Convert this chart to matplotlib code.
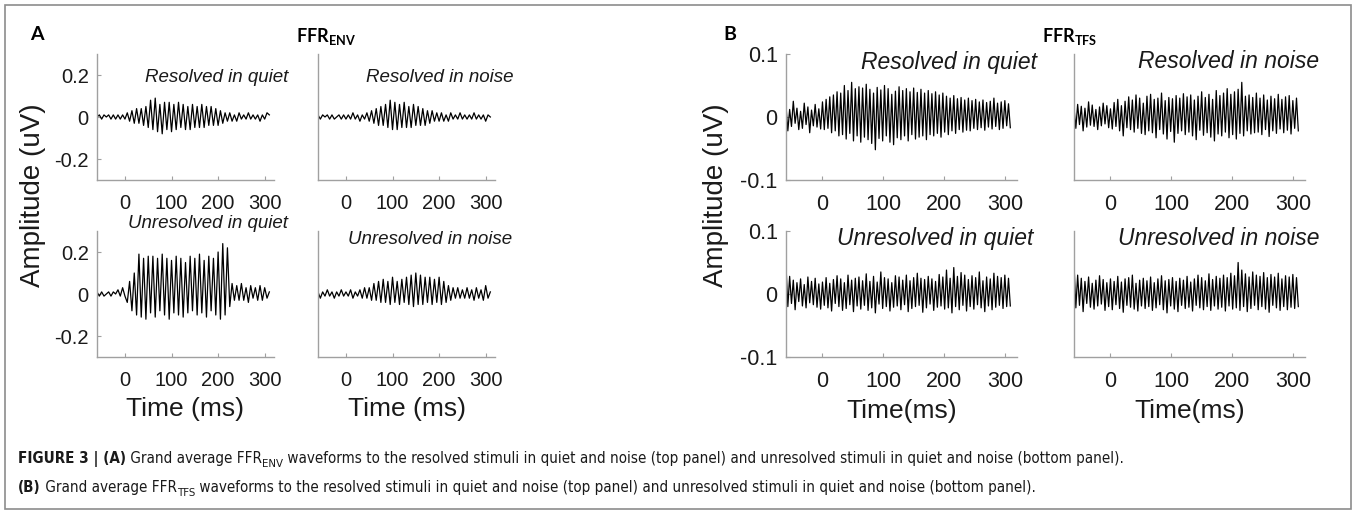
import numpy as np
import matplotlib
matplotlib.use("Agg")
import matplotlib.pyplot as plt
from matplotlib import font_manager as fm
from matplotlib.patches import Rectangle

# ---------------- data ----------------
# FFR_ENV waveforms (units 0.01 uV), half-cycle extremes every 5 ms from -60 ms
env_t0, env_step = -60, 5
env_res_quiet = [0, 1, -1, 1, 0, 1, -1, 1, -1, 1, -1, 1, -1,
                 2, -2, 3, -3, 4, -3, 4, -4, 5, -5,
                 8, -6, 9, -7, 6, -8, 7, -6, 7, -7,
                 6, -6, 7, -5, 6, -6, 5, -6, 6, -5,
                 5, -5, 6, -5, 5, -4, 5, -4, 4, -4,
                 3, -3, 2, -2, 2, -2, 1, -2, 2, -1,
                 1, -1, 2, -1, 1, -1, 1, -2, 1, -1, 2, 1]
env_res_noise = [1, -1, 1, 0, 1, -1, 1, -1, 0, 1, -1, 1, -1,
                 1, -1, 2, -1, 1, -2, 1, -1, 2, -2,
                 3, -3, 4, -4, 5, -4, 6, -5, 8, -6,
                 7, -6, 6, -5, 7, -5, 5, -5, 6, -4,
                 5, -4, 4, -4, 3, -3, 3, -2, 2, -2,
                 2, -2, 1, -2, 2, -1, 1, -1, 2, -1,
                 1, -1, 1, -1, 2, -1, 1, -1, 1, -2, 1, 0]
env_unres_quiet = [1, -1, 1, -1, 0, 1, -1, 1, 0, 2, -1, 3, -1,
                   -4, 6, -8, 10, -10, 19, -11, 17, -12, 18,
                   -9, 18, -11, 17, -8, 19, -10, 17, -12, 16,
                   -9, 18, -10, 17, -11, 15, -9, 18, -8, 17,
                   -10, 19, -9, 16, -11, 18, -8, 17, -10, 20,
                   -12, 24, -10, 22, -6, 5, -3, 4, -3, 5,
                   -3, 3, -4, 4, -2, 3, -3, 4, -3, 3, -2, 1]
env_unres_noise = [1, -2, 1, -1, 2, -1, 1, -2, 1, -1, 2, -1, 1,
                   -1, 2, -2, 1, -1, 2, -2, 3, -2, 3,
                   -3, 5, -3, 6, -4, 7, -4, 6, -5, 8,
                   -4, 6, -5, 7, -4, 8, -5, 9, -6, 10,
                   -5, 9, -5, 8, -4, 8, -5, 7, -4, 8,
                   -5, 6, -4, 4, -3, 3, -2, 3, -2, 2,
                   -2, 3, -2, 2, -3, 3, -2, 2, -3, 4, -2, 1]

# FFR_TFS waveforms (units 0.001 uV), extremes every 3 ms from -60 ms
tfs_t0, tfs_step = -60, 3
tfs_res_quiet = [18, -22, 12, -15, 25, -10, 14, -20, 9, -18, 22, -12, 16, -25, 11, -14, 20, -16, 13, -19, 24,
                 -20, 28, -18, 32, -25, 35, -22, 40, -30, 38, -28, 50, -35, 42, -26, 55, -38, 45, -30, 48,
                 -40, 46, -32, 52, -36, 44, -42, 38, -52, 47, -34, 43, -38, 50, -30, 45, -40, 36, -44, 41,
                 -33, 48, -36, 42, -30, 45, -38, 40, -28, 46, -35, 39, -32, 44, -30, 38, -36, 42, -28, 37,
                 -30, 40, -26, 35, -32, 38, -24, 33, -28, 30, -22, 34, -26, 29, -20, 31, -24, 27, -21, 30,
                 -22, 26, -18, 28, -20, 24, -17, 27, -21, 23, -16, 25, -19, 30, -15, 22, -20, 24, -18, 26, -14, 21, -17]
tfs_res_noise = [15, -18, 20, -12, 17, -22, 14, -16, 24, -13, 19, -15, 12, -20, 16, -14, 22, -11, 18, -17, 13,
                 -19, 23, -15, 28, -22, 18, -30, 25, -17, 32, -20, 27, -24, 35, -18, 30, -26, 22, -28, 33,
                 -22, 36, -25, 28, -33, 30, -20, 38, -27, 26, -35, 31, -23, 29, -40, 34, -26, 30, -22, 37,
                 -28, 32, -24, 35, -30, 27, -36, 33, -21, 40, -29, 31, -25, 36, -32, 28, -38, 42, -27, 34,
                 -30, 38, -24, 45, -33, 36, -28, 40, -35, 44, -26, 55, -30, 33, -22, 35, -27, 31, -25, 38,
                 -24, 30, -28, 35, -20, 27, -31, 33, -22, 29, -26, 36, -19, 28, -25, 32, -21, 34, -27, 26, -18, 30, -22]
tfs_unres_quiet = [45, -20, 28, -15, 22, -25, 18, -12, 24, -19, 15, -22, 27, -14, 20, -17, 25, -21, 16, -24, 19,
                   -18, 26, -22, 17, -27, 23, -15, 29, -20, 24, -26, 18, -23, 30, -17, 22, -28, 25, -19, 27,
                   -24, 21, -18, 32, -26, 20, -22, 28, -30, 19, -16, 35, -23, 26, -20, 24, -27, 18, -21, 29,
                   -19, 27, -25, 22, -17, 30, -28, 21, -23, 26, -20, 33, -18, 25, -29, 23, -22, 28, -16, 24,
                   -26, 20, -21, 31, -19, 27, -24, 38, -22, 25, -30, 42, -20, 28, -25, 34, -18, 30, -27, 23,
                   -20, 29, -24, 26, -17, 35, -22, 21, -28, 27, -19, 24, -25, 33, -21, 28, -18, 26, -23, 30, -20, 25, -19]
tfs_unres_noise = [48, -22, 30, -18, 25, -28, 20, -15, 27, -21, 17, -24, 22, -19, 29, -16, 23, -26, 18, -20, 24,
                   -25, 20, -17, 28, -23, 19, -29, 24, -18, 26, -21, 30, -24, 17, -27, 22, -19, 25, -23, 21,
                   -20, 27, -26, 18, -22, 24, -17, 29, -25, 21, -30, 23, -19, 26, -24, 20, -28, 25, -18, 22,
                   -23, 28, -21, 19, -27, 24, -18, 30, -22, 26, -25, 21, -20, 32, -26, 23, -19, 28, -24, 25,
                   -21, 30, -27, 26, -19, 33, -24, 29, -22, 50, -26, 38, -20, 32, -28, 27, -23, 35, -18, 30,
                   -25, 28, -20, 34, -24, 26, -29, 31, -18, 27, -22, 33, -26, 24, -20, 29, -25, 27, -21, 31, -23, 26, -20]

titles = ["Resolved in quiet", "Resolved in noise", "Unresolved in quiet", "Unresolved in noise"]
xticks = [0, 100, 200, 300]
xticklabels = ["0", "100", "200", "300"]
env_yticks = [-0.2, 0, 0.2]
env_yticklabels = ["-0.2", "0", "0.2"]
tfs_yticks = [-0.1, 0, 0.1]
tfs_yticklabels = ["-0.1", "0", "0.1"]

# ---------------- fonts ----------------
def have(name):
    try:
        fm.findfont(name, fallback_to_default=False)
        return True
    except Exception:
        return False

MAIN = "Liberation Sans"
HEAD = "Lato" if have("Lato") else "DejaVu Sans"
plt.rcParams["font.family"] = [MAIN, "DejaVu Sans"]
plt.rcParams["mathtext.fontset"] = "custom"
plt.rcParams["mathtext.bf"] = HEAD + ":bold"
plt.rcParams["mathtext.rm"] = HEAD


def wnum(w):
    if isinstance(w, int):
        return w
    return {"bold": 700, "normal": 400, "regular": 400, "light": 300,
            "semibold": 600, "medium": 500, "black": 900}.get(str(w), 400)


def find_narrow():
    cands = []
    for f in fm.fontManager.ttflist:
        nm = f.name.lower()
        fn = f.fname.lower()
        narrow = ("narrow" in nm or "narrow" in fn or "condensed" in nm or "condensed" in fn
                  or str(f.stretch) in ("condensed", "semi-condensed"))
        if not narrow or "mono" in nm or ("serif" in nm and "sans" not in nm):
            continue
        if "italic" in fn or "oblique" in fn or f.style != "normal":
            continue
        pri = 0 if "liberation" in nm else (1 if "dejavu" in nm else 2)
        cands.append((pri, f))
    cands.sort(key=lambda c: c[0])
    reg = None
    for pri, f in cands:
        if 350 <= wnum(f.weight) < 600:
            reg = f
            break
    bold = None
    if reg is not None:
        for pri, f in cands:
            if f.name == reg.name and wnum(f.weight) >= 600:
                bold = f
                break
    return reg, bold


nreg, nbold = find_narrow()
if nreg is not None:
    CAP_R = fm.FontProperties(fname=nreg.fname)
    CAP_B = fm.FontProperties(fname=nbold.fname) if nbold is not None else fm.FontProperties(fname=nreg.fname, weight="bold")
else:
    CAP_R = fm.FontProperties(family=MAIN)
    CAP_B = fm.FontProperties(family=MAIN, weight="bold")

W, H = 1357, 515
fig = plt.figure(figsize=(W / 100, H / 100), dpi=100)


def fx(x):
    return x / W


def fy(y):
    return 1 - y / H


def add_ax(l, t, w, h):
    return fig.add_axes([l / W, 1 - (t + h) / H, w / W, h / H])


AX_GRAY = "#a0a0a0"
TXT = "#1a1a1a"

rows = [(54, 126), (231, 126)]
env_cols = [(97, 177), (318, 177)]
tfs_cols = [(786, 231), (1074, 231)]


def style_ax(ax, yt, ytl, ylim, show_y, fs):
    ax.set_xlim(-60, 320)
    ax.set_ylim(*ylim)
    for s in ("top", "right"):
        ax.spines[s].set_visible(False)
    for s in ("left", "bottom"):
        ax.spines[s].set_color(AX_GRAY)
        ax.spines[s].set_linewidth(1.0)
    ax.set_xticks(xticks)
    ax.set_xticklabels(xticklabels)
    if show_y:
        ax.set_yticks(yt)
        ax.set_yticklabels(ytl)
    else:
        ax.set_yticks([])
    ax.tick_params(direction="in", length=3, color=AX_GRAY, labelsize=fs,
                   labelcolor=TXT, pad=6)
    ax.tick_params(axis="x", pad=10)
    ax.patch.set_alpha(0)


env_series = [env_res_quiet, env_res_noise, env_unres_quiet, env_unres_noise]
tfs_series = [tfs_res_quiet, tfs_res_noise, tfs_unres_quiet, tfs_unres_noise]
# title anchors (right edge x px, centre y px)
env_title_pos = [(288, 78), (513, 78), (288, 224), (512, 240)]
tfs_title_pos = [(1037, 62), (1319, 62), (1033, 239), (1319, 239)]
ENV_TITLE_FS, TFS_TITLE_FS = 13.5, 16.5
ENV_TICK_FS, TFS_TICK_FS = 14.5, 15.5

for k in range(4):
    r, c = divmod(k, 2)
    # ENV
    ax = add_ax(env_cols[c][0], rows[r][0], env_cols[c][1], rows[r][1])
    vals = np.array(env_series[k]) * 0.01
    t = env_t0 + env_step * np.arange(len(vals))
    ax.plot(t, vals, color="black", lw=0.9)
    style_ax(ax, env_yticks, env_yticklabels, (-0.3, 0.3), c == 0, ENV_TICK_FS)
    if r == 1:
        ax.set_xlabel("Time (ms)", fontsize=19, color=TXT, labelpad=5)
    x, y = env_title_pos[k]
    fig.text(fx(x), fy(y), titles[k], ha="right", va="center", fontsize=ENV_TITLE_FS,
             style="italic", color=TXT)
    # TFS
    ax = add_ax(tfs_cols[c][0], rows[r][0], tfs_cols[c][1], rows[r][1])
    vals = np.array(tfs_series[k]) * 0.001
    t = tfs_t0 + tfs_step * np.arange(len(vals))
    ax.plot(t, vals, color="black", lw=0.9)
    style_ax(ax, tfs_yticks, tfs_yticklabels, (-0.1, 0.1), c == 0, TFS_TICK_FS)
    if r == 1:
        ax.set_xlabel("Time(ms)", fontsize=19, color=TXT, labelpad=5)
    x, y = tfs_title_pos[k]
    fig.text(fx(x), fy(y), titles[k], ha="right", va="center", fontsize=TFS_TITLE_FS,
             style="italic", color=TXT)

# y labels
fig.text(fx(33), fy(195), "Amplitude (uV)", rotation=90, ha="center", va="center",
         fontsize=20, color=TXT)
fig.text(fx(716), fy(195), "Amplitude (uV)", rotation=90, ha="center", va="center",
         fontsize=20, color=TXT)

# panel letters & headings
fig.text(fx(37), fy(34), "A", fontsize=14, fontweight="bold", family=HEAD, ha="center", va="center")
fig.text(fx(730), fy(34), "B", fontsize=14, fontweight="bold", family=HEAD, ha="center", va="center")
fig.text(fx(326), fy(36), r"$\mathbf{FFR}_{\mathbf{ENV}}$", fontsize=13, ha="center", va="center")
fig.text(fx(1070), fy(36), r"$\mathbf{FFR}_{\mathbf{TFS}}$", fontsize=13, ha="center", va="center")

# frame
fig.patches.append(Rectangle((fx(5), fy(509)), fx(1346), 504 / H, transform=fig.transFigure,
                             fill=False, edgecolor="#8c8c8c", lw=1.2))

# caption
renderer = fig.canvas.get_renderer()


def seq(x, y, pieces, size):
    objs = []
    for s, bold, sub in pieces:
        fs = size * (0.75 if sub else 1.0)
        yy = y + (size * 0.35 if sub else 0)
        fp = (CAP_B if bold else CAP_R).copy()
        fp.set_size(fs)
        tt = fig.text(fx(x), fy(yy), s, fontproperties=fp,
                      va="baseline", ha="left", color="#1a1a1a")
        bb = tt.get_window_extent(renderer)
        x = bb.x1
        objs.append(tt)
    return x, objs


line1 = [("FIGURE 3 | (A)", True, False),
         (" Grand average FFR", False, False), ("ENV", False, True),
         (" waveforms to the resolved stimuli in quiet and noise (top panel) and unresolved stimuli in quiet and noise (bottom panel).", False, False)]
line2 = [("(B)", True, False),
         (" Grand average FFR", False, False), ("TFS", False, True),
         (" waveforms to the resolved stimuli in quiet and noise (top panel) and unresolved stimuli in quiet and noise (bottom panel).", False, False)]

x_end, objs = seq(18, 463, line1, 10)
for o in objs:
    o.remove()
size = 10 * (1125 - 18) / (x_end - 18)
seq(18, 463, line1, size)
seq(18, 492, line2, size)

fig.savefig("out.png", dpi=100)
